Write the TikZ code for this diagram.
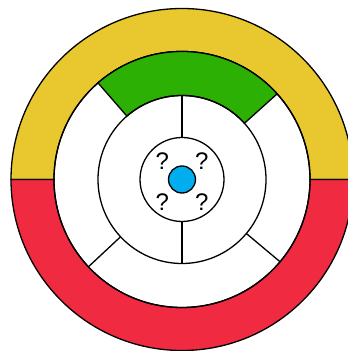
\documentclass[tikz,border=0pt]{standalone}
\usepackage{fontspec}
\setmainfont{Liberation Sans}
\usetikzlibrary{calc}
\definecolor{ringyellow}{HTML}{E8C82E}
\definecolor{ringred}{HTML}{F02A40}
\definecolor{ringgreen}{HTML}{2DB004}
\definecolor{dotblue}{HTML}{00AEEF}
\tikzset{
  qmark/.style={inner sep=0pt, font=\fontsize{24}{24}\selectfont},
  ringline/.style={draw=black, line width=1.3pt}
}
\begin{document}
\begin{tikzpicture}[x=1pt,y=1pt]
\useasboundingbox (0,0) rectangle (348,351);
\coordinate (c) at (182,171.5);
% outer ring halves
\path[ringline, fill=ringyellow] ($(c)+(0:171)$) arc[start angle=0,end angle=180,radius=171]
  -- ($(c)+(180:128)$) arc[start angle=180,end angle=0,radius=128] -- cycle;
\path[ringline, fill=ringred] ($(c)+(180:171)$) arc[start angle=180,end angle=360,radius=171]
  -- ($(c)+(0:128)$) arc[start angle=360,end angle=180,radius=128] -- cycle;
% middle ring
\path[ringline] (c) circle[radius=128];
\path[ringline, fill=ringgreen] ($(c)+(42:128)$) arc[start angle=42,end angle=131,radius=128]
  -- ($(c)+(131:84)$) arc[start angle=131,end angle=42,radius=84] -- cycle;
\path[ringline] ($(c)+(223:84)$) -- ($(c)+(223:128)$);
\path[ringline] ($(c)+(320:84)$) -- ($(c)+(320:128)$);
% inner ring
\path[ringline] (c) circle[radius=84];
\path[ringline] (c) circle[radius=42];
\path[ringline] ($(c)+(90:42)$) -- ($(c)+(90:84)$);
\path[ringline] ($(c)+(270:42)$) -- ($(c)+(270:84)$);
% centre
\path[ringline, fill=dotblue] (c) circle[radius=13.5];
\node[qmark] (q1) at ($(c)+(-19.7,18.7)$) {?};
\node[qmark] (q2) at ($(c)+(19.7,18.7)$) {?};
\node[qmark] (q3) at ($(c)+(-19.7,-22.2)$) {?};
\node[qmark] (q4) at ($(c)+(19.7,-22.2)$) {?};
\end{tikzpicture}
\end{document}
